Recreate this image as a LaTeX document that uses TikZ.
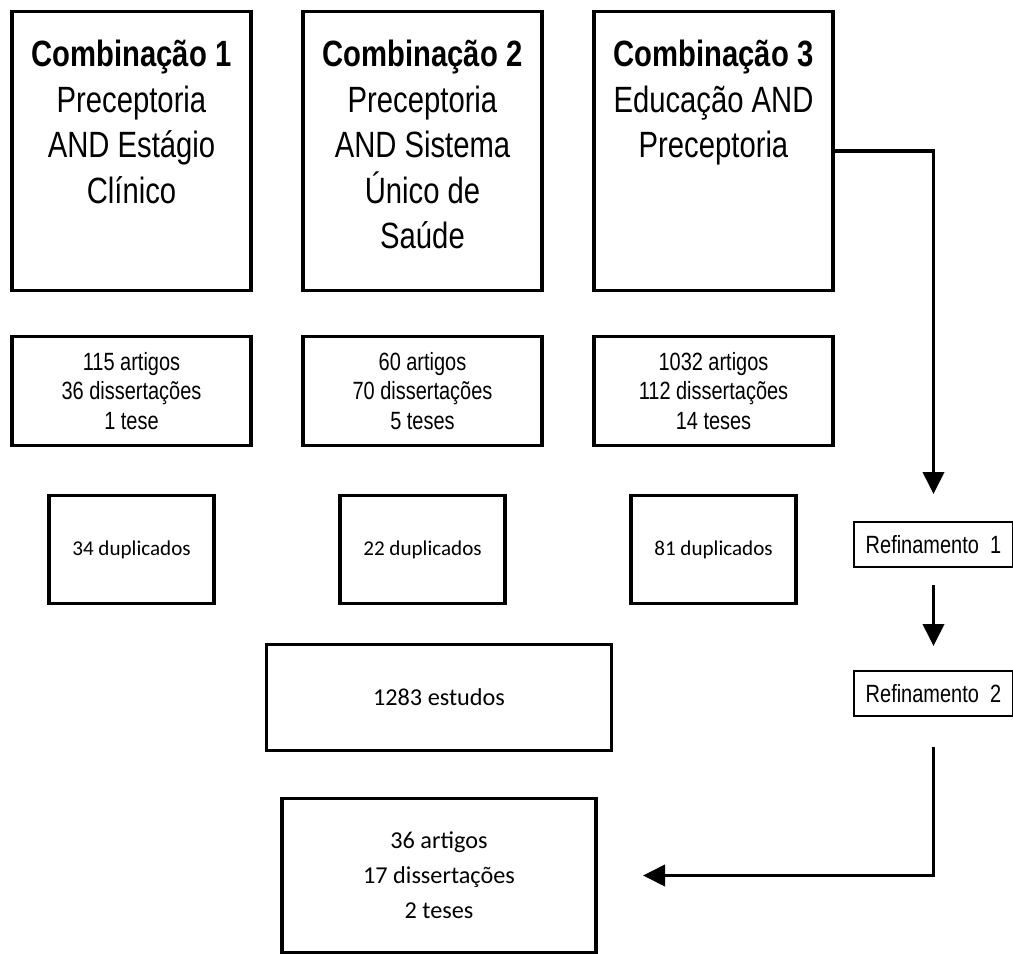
\documentclass[tikz,border=0pt]{standalone}
\usepackage{fontspec}
\usepackage{tikz}
\usetikzlibrary{positioning, arrows.meta}
\newfontfamily\arialn[FakeStretch=0.8]{Liberation Sans}
\newfontfamily\calibri{Carlito}
\newcommand{\combtext}[2]{\parbox[c][5.4cm][t]{4.6cm}{\centering\vspace*{0.48cm}{\bfseries #1}\\#2}}

\begin{document}
\begin{tikzpicture}[
    node distance=1cm and 1.04cm,
    combo/.style={draw, line width=2pt, outer sep=0pt, minimum width=4.78cm, minimum height=5.58cm, inner sep=0pt, font=\arialn\fontsize{20.8}{25.9}\selectfont},
    result/.style={draw, line width=2pt, outer sep=0pt, minimum width=4.78cm, minimum height=2.18cm, align=center, font=\arialn\fontsize{14.2}{17}\selectfont},
    dupbox/.style={draw, line width=2pt, outer sep=0pt, minimum width=3.3cm, minimum height=2.16cm, font=\calibri\fontsize{12}{14}\selectfont},
    refine/.style={draw, line width=0.6pt, outer sep=0pt, minimum width=3.18cm, minimum height=0.9cm, font=\arialn\fontsize{14.2}{16}\selectfont},
    total/.style={draw, line width=2pt, outer sep=0pt, align=center, font=\calibri\fontsize{13.8}{19.9}\selectfont},
    arrow/.style={-{Triangle[width=0.42cm, length=0.44cm]}, line width=2.2pt}
]
    \useasboundingbox (0,0) rectangle (20.26,-19.08);

    % Search combinations
    \node[combo] (comb1) at (2.63,-3.02) {\combtext{Combinação 1}{Preceptoria\\AND Estágio\\Clínico}};
    \node[combo, right=of comb1] (comb2) {\combtext{Combinação 2}{Preceptoria\\AND Sistema\\Único de\\Saúde}};
    \node[combo, right=of comb2] (comb3) {\combtext{Combinação 3}{Educação AND\\Preceptoria}};

    % Results
    \node[result, below=0.92cm of comb1] (res1) {115 artigos\\36 dissertações\\1 tese};
    \node[result, below=0.92cm of comb2] (res2) {60 artigos\\70 dissertações\\5 teses};
    \node[result, below=0.92cm of comb3] (res3) {1032 artigos\\112 dissertações\\14 teses};

    % Duplicates
    \node[dupbox, below=of res1] (dup1) {34 duplicados};
    \node[dupbox, below=of res2] (dup2) {22 duplicados};
    \node[dupbox, below=of res3] (dup3) {81 duplicados};

    % Refinement
    \node[refine, right=1.16cm of dup3, yshift=0.1cm] (ref1) {Refinamento\hspace{0.45em}1};
    \node[refine, below=2.08cm of ref1] (ref2) {Refinamento\hspace{0.45em}2};

    % Totals
    \node[total, minimum width=6.9cm, minimum height=2.12cm, below=0.82cm of dup2, xshift=0.33cm] (studies) {1283 estudos};
    \node[total, minimum width=6.28cm, minimum height=3.08cm, below=0.96cm of studies] (final) {36 artigos\\17 dissertações\\2 teses};

    % Connections
    \draw[arrow, shorten >=0.56cm] (comb3.east) -| (ref1.north);
    \draw[arrow, shorten <=0.36cm, shorten >=0.5cm] (ref1.south) -- (ref2.north);
    \draw[arrow, shorten <=0.62cm, shorten >=0.94cm] (ref2.south) |- (final.east);
\end{tikzpicture}
\end{document}
